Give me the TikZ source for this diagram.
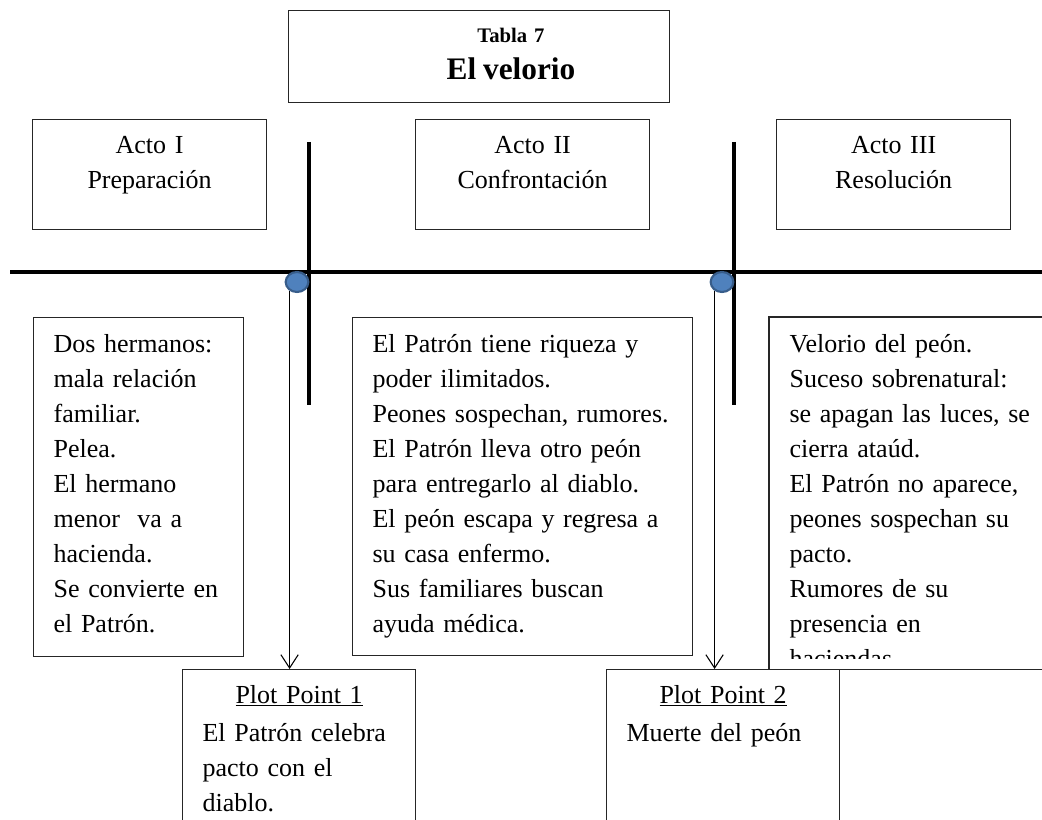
\documentclass[tikz,border=0pt]{standalone}
\usepackage{fontspec}
\setmainfont{Liberation Serif}
\usepackage{xcolor}
\usetikzlibrary{shapes.geometric,arrows.meta,positioning}

\definecolor{dotfill}{HTML}{4F81BD}
\definecolor{dotedge}{HTML}{385D8A}

\begin{document}
\begin{tikzpicture}[
    x=0.75pt, y=-0.75pt,
    bodyfont/.style={font=\fontsize{19.5pt}{26.25pt}\selectfont},
    frame/.style={draw=black!85, line width=0.9pt},
    actbox/.style={frame, bodyfont, anchor=north west, inner sep=0pt, text width=175.5pt,
        align=center, text height=25.5pt, text depth=57pt},
    textbox/.style={frame, bodyfont, anchor=north west, inner xsep=15pt, inner ysep=0pt,
        align=left, text height=26.25pt, text depth=228pt},
    plotbox/.style={frame, bodyfont, anchor=north west, inner xsep=15pt, inner ysep=0pt,
        text width=144.75pt, align=left, text height=25.5pt, text depth=96pt},
    timeline/.style={line width=3.2pt},
    dot/.style={ellipse, draw=dotedge, fill=dotfill, line width=1.6pt, inner sep=0pt,
        minimum width=17pt, minimum height=15pt},
    pointer/.style={-{Straight Barb[length=10pt,width=13pt]}, line width=0.8pt}
]
\clip (0,0) rectangle (1042,820);

% title
\node[frame, anchor=north west, inner sep=0pt, minimum width=285.75pt, minimum height=69pt]
    (titlebox) at (288,10) {};
\node[anchor=base, text width=240pt, align=center, font=\bfseries\fontsize{15.5pt}{27.75pt}\selectfont]
    (title) at (511,43) {Tabla 7\\{\fontsize{23.5pt}{27.75pt}\selectfont El velorio}};

% acts
\node[actbox] (act1) at (32,119) {Acto I\\Preparación};
\node[actbox] (act2) at (415,119) {Acto II\\Confrontación};
\node[actbox] (act3) at (776,119) {Acto III\\Resolución};

% timeline
\coordinate (tl start) at (10,272);
\coordinate (tl end) at (1042,272);
\coordinate (cut1 top) at (309,142);
\coordinate (cut1 bottom) at (309,405);
\coordinate (cut2 top) at (734,142);
\coordinate (cut2 bottom) at (734,405);
\draw[timeline] (tl start) -- (tl end);
\draw[timeline] (cut1 top) -- (cut1 bottom);
\draw[timeline] (cut2 top) -- (cut2 bottom);

% story boxes
\node[textbox, text width=127.5pt] (story1) at (33,317)
    {Dos hermanos:\\mala relación\\familiar.\\Pelea.\\El hermano\\menor\ \ va a\\hacienda.\\Se convierte en\\el Patrón.};
\node[textbox, text width=225pt, text depth=227pt] (story2) at (352,317)
    {El Patrón tiene riqueza y\\poder ilimitados.\\Peones sospechan, rumores.\\El Patrón lleva otro peón\\para entregarlo al diablo.\\El peón escapa y regresa a\\su casa enfermo.\\Sus familiares buscan\\ayuda médica.};
\begin{scope}
    \clip (769,317) rectangle (1042,658);
    \node[textbox, draw=none, text width=187.5pt, text depth=237pt] (story3) at (769,317)
        {Velorio del peón.\\Suceso sobrenatural:\\se apagan las luces, se\\cierra ataúd.\\El Patrón no aparece,\\peones sospechan su\\pacto.\\Rumores de su\\presencia en\\haciendas.};
\end{scope}
\draw[frame] (story3.north west) rectangle (story3.south east);

% plot points
\node[plotbox] (pp1) at (182,669)
    {\makebox[\linewidth]{\underline{Plot Point 1}}\\[2pt]El Patrón celebra\\pacto con el\\diablo.};
\node[plotbox] (pp2) at (606,669)
    {\makebox[\linewidth]{\underline{Plot Point 2}}\\[2pt]Muerte del peón};

\node[dot] (dot1) at (297,282) {};
\node[dot] (dot2) at (722,282) {};

\draw[pointer] (dot1.230) -- (dot1.230 |- pp1.north);
\draw[pointer] (dot2.230) -- (dot2.230 |- pp2.north);
\end{tikzpicture}
\end{document}
